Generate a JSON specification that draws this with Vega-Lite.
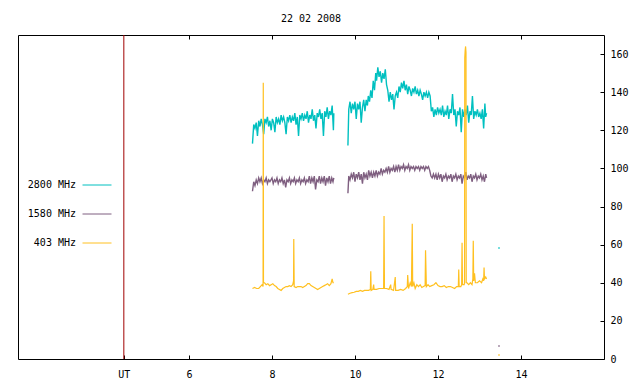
{
"$schema": "https://vega.github.io/schema/vega-lite/v6.json",
"width": 586, "height": 324,
"autosize": {"type": "none"},
"padding": {"left": 18, "top": 35, "right": 36, "bottom": 25},
"background": "white",
"title": {"text": "22 02 2008", "font": "DejaVu Sans Mono", "fontSize": 10, "fontWeight": "normal", "color": "black", "offset": 11, "anchor": "middle"},
"config": {
 "view": {"stroke": "black", "strokeWidth": 1},
 "axis": {"grid": false, "domain": false, "tickColor": "black", "labelColor": "black", "labelFont": "DejaVu Sans Mono", "labelFontSize": 10, "title": null}
},
"datasets": {
 "red": [{"t": 4.43}],
 "teal": [
  {"g":1,"t":7.53,"v":113},{"g":1,"t":7.56,"v":123},{"g":1,"t":7.59,"v":121},{"g":1,"t":7.62,"v":124},{"g":1,"t":7.65,"v":117},{"g":1,"t":7.68,"v":125},{"g":1,"t":7.71,"v":122},{"g":1,"t":7.74,"v":126},{"g":1,"t":7.77,"v":123},{"g":1,"t":7.8,"v":118},{"g":1,"t":7.83,"v":126},{"g":1,"t":7.86,"v":124},{"g":1,"t":7.89,"v":127},{"g":1,"t":7.92,"v":122},{"g":1,"t":7.95,"v":125},{"g":1,"t":7.98,"v":120},{"g":1,"t":8.01,"v":126},{"g":1,"t":8.04,"v":124},{"g":1,"t":8.07,"v":119},{"g":1,"t":8.1,"v":127},{"g":1,"t":8.13,"v":124},{"g":1,"t":8.16,"v":126},{"g":1,"t":8.19,"v":123},{"g":1,"t":8.22,"v":128},{"g":1,"t":8.25,"v":125},{"g":1,"t":8.28,"v":127},{"g":1,"t":8.31,"v":124},{"g":1,"t":8.34,"v":118},{"g":1,"t":8.37,"v":127},{"g":1,"t":8.4,"v":125},{"g":1,"t":8.43,"v":128},{"g":1,"t":8.46,"v":124},{"g":1,"t":8.49,"v":127},{"g":1,"t":8.52,"v":125},{"g":1,"t":8.55,"v":129},{"g":1,"t":8.58,"v":123},{"g":1,"t":8.61,"v":127},{"g":1,"t":8.64,"v":117},{"g":1,"t":8.67,"v":128},{"g":1,"t":8.7,"v":126},{"g":1,"t":8.73,"v":129},{"g":1,"t":8.76,"v":125},{"g":1,"t":8.79,"v":128},{"g":1,"t":8.82,"v":126},{"g":1,"t":8.85,"v":130},{"g":1,"t":8.88,"v":124},{"g":1,"t":8.91,"v":128},{"g":1,"t":8.94,"v":126},{"g":1,"t":8.97,"v":131},{"g":1,"t":9.0,"v":125},{"g":1,"t":9.03,"v":128},{"g":1,"t":9.06,"v":121},{"g":1,"t":9.09,"v":129},{"g":1,"t":9.12,"v":127},{"g":1,"t":9.15,"v":131},{"g":1,"t":9.18,"v":126},{"g":1,"t":9.21,"v":129},{"g":1,"t":9.24,"v":117},{"g":1,"t":9.27,"v":130},{"g":1,"t":9.3,"v":127},{"g":1,"t":9.33,"v":132},{"g":1,"t":9.36,"v":126},{"g":1,"t":9.39,"v":130},{"g":1,"t":9.42,"v":128},{"g":1,"t":9.45,"v":133},{"g":1,"t":9.48,"v":120},{"g":1,"t":9.49,"v":129},
  {"g":2,"t":9.83,"v":112},{"g":2,"t":9.85,"v":131},{"g":2,"t":9.88,"v":135},{"g":2,"t":9.91,"v":129},{"g":2,"t":9.94,"v":134},{"g":2,"t":9.97,"v":131},{"g":2,"t":10.0,"v":135},{"g":2,"t":10.03,"v":126},{"g":2,"t":10.06,"v":134},{"g":2,"t":10.09,"v":131},{"g":2,"t":10.12,"v":135},{"g":2,"t":10.15,"v":124},{"g":2,"t":10.18,"v":132},{"g":2,"t":10.21,"v":136},{"g":2,"t":10.24,"v":130},{"g":2,"t":10.27,"v":136},{"g":2,"t":10.3,"v":133},{"g":2,"t":10.32,"v":138},{"g":2,"t":10.35,"v":135},{"g":2,"t":10.38,"v":141},{"g":2,"t":10.41,"v":137},{"g":2,"t":10.44,"v":146},{"g":2,"t":10.47,"v":141},{"g":2,"t":10.5,"v":150},{"g":2,"t":10.52,"v":146},{"g":2,"t":10.55,"v":153},{"g":2,"t":10.58,"v":148},{"g":2,"t":10.61,"v":151},{"g":2,"t":10.64,"v":145},{"g":2,"t":10.67,"v":150},{"g":2,"t":10.7,"v":147},{"g":2,"t":10.73,"v":152},{"g":2,"t":10.76,"v":144},{"g":2,"t":10.79,"v":141},{"g":2,"t":10.82,"v":135},{"g":2,"t":10.85,"v":140},{"g":2,"t":10.88,"v":136},{"g":2,"t":10.91,"v":139},{"g":2,"t":10.94,"v":131},{"g":2,"t":10.97,"v":138},{"g":2,"t":11.0,"v":140},{"g":2,"t":11.03,"v":137},{"g":2,"t":11.06,"v":143},{"g":2,"t":11.09,"v":140},{"g":2,"t":11.12,"v":145},{"g":2,"t":11.15,"v":142},{"g":2,"t":11.18,"v":146},{"g":2,"t":11.21,"v":141},{"g":2,"t":11.24,"v":144},{"g":2,"t":11.27,"v":139},{"g":2,"t":11.3,"v":143},{"g":2,"t":11.33,"v":141},{"g":2,"t":11.36,"v":138},{"g":2,"t":11.39,"v":142},{"g":2,"t":11.42,"v":140},{"g":2,"t":11.45,"v":143},{"g":2,"t":11.48,"v":139},{"g":2,"t":11.51,"v":141},{"g":2,"t":11.54,"v":138},{"g":2,"t":11.57,"v":141},{"g":2,"t":11.6,"v":139},{"g":2,"t":11.63,"v":136},{"g":2,"t":11.66,"v":140},{"g":2,"t":11.69,"v":138},{"g":2,"t":11.72,"v":140},{"g":2,"t":11.75,"v":137},{"g":2,"t":11.78,"v":140},{"g":2,"t":11.81,"v":138},{"g":2,"t":11.84,"v":130},{"g":2,"t":11.87,"v":132},{"g":2,"t":11.9,"v":127},{"g":2,"t":11.93,"v":131},{"g":2,"t":11.96,"v":128},{"g":2,"t":11.99,"v":132},{"g":2,"t":12.02,"v":129},{"g":2,"t":12.05,"v":131},{"g":2,"t":12.08,"v":128},{"g":2,"t":12.11,"v":133},{"g":2,"t":12.14,"v":127},{"g":2,"t":12.17,"v":130},{"g":2,"t":12.2,"v":128},{"g":2,"t":12.23,"v":133},{"g":2,"t":12.26,"v":126},{"g":2,"t":12.29,"v":131},{"g":2,"t":12.32,"v":129},{"g":2,"t":12.35,"v":139},{"g":2,"t":12.38,"v":128},{"g":2,"t":12.41,"v":131},{"g":2,"t":12.44,"v":122},{"g":2,"t":12.47,"v":130},{"g":2,"t":12.5,"v":128},{"g":2,"t":12.53,"v":132},{"g":2,"t":12.56,"v":119},{"g":2,"t":12.59,"v":131},{"g":2,"t":12.62,"v":127},{"g":2,"t":12.65,"v":131},{"g":2,"t":12.68,"v":128},{"g":2,"t":12.71,"v":133},{"g":2,"t":12.74,"v":124},{"g":2,"t":12.77,"v":130},{"g":2,"t":12.8,"v":128},{"g":2,"t":12.83,"v":138},{"g":2,"t":12.86,"v":126},{"g":2,"t":12.89,"v":130},{"g":2,"t":12.92,"v":128},{"g":2,"t":12.95,"v":131},{"g":2,"t":12.98,"v":127},{"g":2,"t":13.01,"v":129},{"g":2,"t":13.04,"v":126},{"g":2,"t":13.07,"v":131},{"g":2,"t":13.1,"v":121},{"g":2,"t":13.13,"v":134},{"g":2,"t":13.15,"v":127},{"g":2,"t":13.17,"v":129}
 ],
 "purple": [
  {"g":1,"t":7.53,"v":88},{"g":1,"t":7.56,"v":93},{"g":1,"t":7.59,"v":91},{"g":1,"t":7.62,"v":94},{"g":1,"t":7.65,"v":92},{"g":1,"t":7.68,"v":95},{"g":1,"t":7.71,"v":93},{"g":1,"t":7.74,"v":95},{"g":1,"t":7.77,"v":92},{"g":1,"t":7.8,"v":94},{"g":1,"t":7.83,"v":93},{"g":1,"t":7.86,"v":95},{"g":1,"t":7.89,"v":92},{"g":1,"t":7.92,"v":94},{"g":1,"t":7.95,"v":93},{"g":1,"t":8.0,"v":95},{"g":1,"t":8.03,"v":92},{"g":1,"t":8.06,"v":94},{"g":1,"t":8.09,"v":93},{"g":1,"t":8.12,"v":95},{"g":1,"t":8.15,"v":92},{"g":1,"t":8.18,"v":94},{"g":1,"t":8.21,"v":93},{"g":1,"t":8.24,"v":95},{"g":1,"t":8.27,"v":92},{"g":1,"t":8.3,"v":94},{"g":1,"t":8.33,"v":90},{"g":1,"t":8.36,"v":94},{"g":1,"t":8.39,"v":93},{"g":1,"t":8.42,"v":95},{"g":1,"t":8.45,"v":92},{"g":1,"t":8.48,"v":94},{"g":1,"t":8.51,"v":93},{"g":1,"t":8.54,"v":95},{"g":1,"t":8.57,"v":92},{"g":1,"t":8.6,"v":94},{"g":1,"t":8.63,"v":93},{"g":1,"t":8.66,"v":95},{"g":1,"t":8.69,"v":92},{"g":1,"t":8.72,"v":94},{"g":1,"t":8.75,"v":93},{"g":1,"t":8.78,"v":95},{"g":1,"t":8.81,"v":92},{"g":1,"t":8.84,"v":94},{"g":1,"t":8.87,"v":93},{"g":1,"t":8.9,"v":96},{"g":1,"t":8.93,"v":92},{"g":1,"t":8.96,"v":95},{"g":1,"t":8.99,"v":93},{"g":1,"t":9.02,"v":96},{"g":1,"t":9.05,"v":89},{"g":1,"t":9.08,"v":94},{"g":1,"t":9.11,"v":93},{"g":1,"t":9.14,"v":96},{"g":1,"t":9.17,"v":92},{"g":1,"t":9.2,"v":95},{"g":1,"t":9.23,"v":93},{"g":1,"t":9.26,"v":96},{"g":1,"t":9.29,"v":91},{"g":1,"t":9.32,"v":95},{"g":1,"t":9.35,"v":93},{"g":1,"t":9.38,"v":96},{"g":1,"t":9.41,"v":92},{"g":1,"t":9.44,"v":95},{"g":1,"t":9.47,"v":93},{"g":1,"t":9.49,"v":95},
  {"g":2,"t":9.83,"v":87},{"g":2,"t":9.85,"v":96},{"g":2,"t":9.88,"v":94},{"g":2,"t":9.91,"v":97},{"g":2,"t":9.94,"v":95},{"g":2,"t":9.97,"v":98},{"g":2,"t":10.0,"v":93},{"g":2,"t":10.03,"v":97},{"g":2,"t":10.06,"v":95},{"g":2,"t":10.09,"v":98},{"g":2,"t":10.12,"v":94},{"g":2,"t":10.15,"v":97},{"g":2,"t":10.18,"v":92},{"g":2,"t":10.21,"v":98},{"g":2,"t":10.24,"v":95},{"g":2,"t":10.27,"v":97},{"g":2,"t":10.3,"v":94},{"g":2,"t":10.33,"v":99},{"g":2,"t":10.36,"v":96},{"g":2,"t":10.39,"v":98},{"g":2,"t":10.42,"v":95},{"g":2,"t":10.45,"v":98},{"g":2,"t":10.48,"v":96},{"g":2,"t":10.51,"v":99},{"g":2,"t":10.54,"v":96},{"g":2,"t":10.57,"v":98},{"g":2,"t":10.6,"v":97},{"g":2,"t":10.63,"v":100},{"g":2,"t":10.66,"v":97},{"g":2,"t":10.69,"v":99},{"g":2,"t":10.72,"v":98},{"g":2,"t":10.75,"v":100},{"g":2,"t":10.78,"v":98},{"g":2,"t":10.81,"v":101},{"g":2,"t":10.84,"v":98},{"g":2,"t":10.87,"v":100},{"g":2,"t":10.9,"v":99},{"g":2,"t":10.93,"v":101},{"g":2,"t":10.96,"v":98},{"g":2,"t":10.99,"v":101},{"g":2,"t":11.02,"v":99},{"g":2,"t":11.05,"v":102},{"g":2,"t":11.08,"v":99},{"g":2,"t":11.11,"v":101},{"g":2,"t":11.14,"v":100},{"g":2,"t":11.17,"v":102},{"g":2,"t":11.2,"v":99},{"g":2,"t":11.23,"v":101},{"g":2,"t":11.26,"v":100},{"g":2,"t":11.29,"v":102},{"g":2,"t":11.32,"v":99},{"g":2,"t":11.35,"v":101},{"g":2,"t":11.38,"v":100},{"g":2,"t":11.41,"v":101},{"g":2,"t":11.44,"v":99},{"g":2,"t":11.47,"v":101},{"g":2,"t":11.5,"v":100},{"g":2,"t":11.53,"v":101},{"g":2,"t":11.56,"v":99},{"g":2,"t":11.59,"v":101},{"g":2,"t":11.62,"v":100},{"g":2,"t":11.65,"v":101},{"g":2,"t":11.68,"v":99},{"g":2,"t":11.71,"v":101},{"g":2,"t":11.74,"v":100},{"g":2,"t":11.77,"v":101},{"g":2,"t":11.8,"v":99},{"g":2,"t":11.83,"v":96},{"g":2,"t":11.86,"v":95},{"g":2,"t":11.89,"v":97},{"g":2,"t":11.92,"v":95},{"g":2,"t":11.95,"v":97},{"g":2,"t":11.98,"v":94},{"g":2,"t":12.01,"v":97},{"g":2,"t":12.04,"v":95},{"g":2,"t":12.07,"v":97},{"g":2,"t":12.1,"v":93},{"g":2,"t":12.13,"v":96},{"g":2,"t":12.16,"v":95},{"g":2,"t":12.19,"v":97},{"g":2,"t":12.22,"v":94},{"g":2,"t":12.25,"v":96},{"g":2,"t":12.28,"v":95},{"g":2,"t":12.31,"v":97},{"g":2,"t":12.34,"v":93},{"g":2,"t":12.37,"v":96},{"g":2,"t":12.4,"v":95},{"g":2,"t":12.43,"v":97},{"g":2,"t":12.46,"v":94},{"g":2,"t":12.49,"v":96},{"g":2,"t":12.52,"v":95},{"g":2,"t":12.55,"v":97},{"g":2,"t":12.58,"v":92},{"g":2,"t":12.61,"v":96},{"g":2,"t":12.64,"v":95},{"g":2,"t":12.67,"v":98},{"g":2,"t":12.7,"v":94},{"g":2,"t":12.73,"v":96},{"g":2,"t":12.76,"v":95},{"g":2,"t":12.79,"v":97},{"g":2,"t":12.82,"v":93},{"g":2,"t":12.85,"v":96},{"g":2,"t":12.88,"v":95},{"g":2,"t":12.91,"v":97},{"g":2,"t":12.94,"v":94},{"g":2,"t":12.97,"v":96},{"g":2,"t":13.0,"v":95},{"g":2,"t":13.03,"v":97},{"g":2,"t":13.06,"v":94},{"g":2,"t":13.09,"v":96},{"g":2,"t":13.12,"v":93},{"g":2,"t":13.15,"v":97},{"g":2,"t":13.17,"v":95}
 ],
 "yellow": [
  {"g":1,"t":7.53,"v":37},{"g":1,"t":7.58,"v":37.5},{"g":1,"t":7.63,"v":37},{"g":1,"t":7.68,"v":37},{"g":1,"t":7.72,"v":38},{"g":1,"t":7.76,"v":39},{"g":1,"t":7.785,"v":38},{"g":1,"t":7.79,"v":145},{"g":1,"t":7.795,"v":40},{"g":1,"t":7.82,"v":40},{"g":1,"t":7.86,"v":39},{"g":1,"t":7.9,"v":39.5},{"g":1,"t":7.94,"v":38.5},{"g":1,"t":7.98,"v":39},{"g":1,"t":8.02,"v":39.5},{"g":1,"t":8.06,"v":38.5},{"g":1,"t":8.1,"v":38},{"g":1,"t":8.14,"v":37},{"g":1,"t":8.18,"v":36.5},{"g":1,"t":8.22,"v":36},{"g":1,"t":8.26,"v":37},{"g":1,"t":8.3,"v":37.5},{"g":1,"t":8.34,"v":38},{"g":1,"t":8.38,"v":38},{"g":1,"t":8.42,"v":38.5},{"g":1,"t":8.46,"v":38},{"g":1,"t":8.5,"v":39},{"g":1,"t":8.52,"v":41},{"g":1,"t":8.525,"v":63},{"g":1,"t":8.535,"v":38},{"g":1,"t":8.58,"v":37.5},{"g":1,"t":8.62,"v":38},{"g":1,"t":8.66,"v":38},{"g":1,"t":8.7,"v":38},{"g":1,"t":8.74,"v":37.5},{"g":1,"t":8.78,"v":38},{"g":1,"t":8.82,"v":38.5},{"g":1,"t":8.86,"v":39.5},{"g":1,"t":8.9,"v":39.5},{"g":1,"t":8.94,"v":38.5},{"g":1,"t":8.98,"v":38},{"g":1,"t":9.02,"v":37.5},{"g":1,"t":9.06,"v":37},{"g":1,"t":9.1,"v":36.5},{"g":1,"t":9.14,"v":37},{"g":1,"t":9.18,"v":37.5},{"g":1,"t":9.22,"v":38},{"g":1,"t":9.26,"v":38.5},{"g":1,"t":9.3,"v":39},{"g":1,"t":9.34,"v":39.5},{"g":1,"t":9.38,"v":38.5},{"g":1,"t":9.42,"v":39.5},{"g":1,"t":9.45,"v":42},{"g":1,"t":9.47,"v":40},{"g":1,"t":9.49,"v":40},
  {"g":2,"t":9.83,"v":34},{"g":2,"t":9.88,"v":34.5},{"g":2,"t":9.93,"v":34.8},{"g":2,"t":9.98,"v":35},{"g":2,"t":10.03,"v":35.5},{"g":2,"t":10.08,"v":35.5},{"g":2,"t":10.13,"v":36},{"g":2,"t":10.18,"v":35.5},{"g":2,"t":10.23,"v":36},{"g":2,"t":10.28,"v":36},{"g":2,"t":10.33,"v":36},{"g":2,"t":10.37,"v":36.5},{"g":2,"t":10.38,"v":46},{"g":2,"t":10.39,"v":36},{"g":2,"t":10.43,"v":36.5},{"g":2,"t":10.45,"v":39},{"g":2,"t":10.46,"v":36.5},{"g":2,"t":10.52,"v":36.5},{"g":2,"t":10.58,"v":37},{"g":2,"t":10.64,"v":37},{"g":2,"t":10.69,"v":37},{"g":2,"t":10.7,"v":75},{"g":2,"t":10.71,"v":37},{"g":2,"t":10.76,"v":37},{"g":2,"t":10.82,"v":36.5},{"g":2,"t":10.86,"v":39},{"g":2,"t":10.87,"v":36.5},{"g":2,"t":10.93,"v":36},{"g":2,"t":10.97,"v":43},{"g":2,"t":10.98,"v":36},{"g":2,"t":11.04,"v":36},{"g":2,"t":11.1,"v":36.5},{"g":2,"t":11.16,"v":36},{"g":2,"t":11.22,"v":37},{"g":2,"t":11.26,"v":38},{"g":2,"t":11.27,"v":44},{"g":2,"t":11.29,"v":37},{"g":2,"t":11.33,"v":40},{"g":2,"t":11.36,"v":38},{"g":2,"t":11.38,"v":71},{"g":2,"t":11.39,"v":38},{"g":2,"t":11.42,"v":40},{"g":2,"t":11.45,"v":37},{"g":2,"t":11.49,"v":39},{"g":2,"t":11.53,"v":38},{"g":2,"t":11.57,"v":39},{"g":2,"t":11.61,"v":37.5},{"g":2,"t":11.65,"v":38},{"g":2,"t":11.69,"v":38.5},{"g":2,"t":11.7,"v":57},{"g":2,"t":11.72,"v":38},{"g":2,"t":11.76,"v":39},{"g":2,"t":11.8,"v":38},{"g":2,"t":11.85,"v":38.5},{"g":2,"t":11.9,"v":39},{"g":2,"t":11.95,"v":40},{"g":2,"t":12.0,"v":38.5},{"g":2,"t":12.05,"v":38},{"g":2,"t":12.1,"v":38},{"g":2,"t":12.15,"v":38.5},{"g":2,"t":12.2,"v":37.5},{"g":2,"t":12.25,"v":38},{"g":2,"t":12.3,"v":38},{"g":2,"t":12.35,"v":37.5},{"g":2,"t":12.4,"v":37},{"g":2,"t":12.45,"v":38},{"g":2,"t":12.49,"v":38},{"g":2,"t":12.5,"v":47},{"g":2,"t":12.51,"v":38},{"g":2,"t":12.55,"v":38},{"g":2,"t":12.57,"v":39},{"g":2,"t":12.58,"v":61},{"g":2,"t":12.59,"v":39},{"g":2,"t":12.63,"v":39},{"g":2,"t":12.64,"v":40},{"g":2,"t":12.645,"v":158},{"g":2,"t":12.655,"v":162},{"g":2,"t":12.665,"v":164},{"g":2,"t":12.675,"v":161},{"g":2,"t":12.68,"v":40},{"g":2,"t":12.7,"v":40},{"g":2,"t":12.74,"v":39},{"g":2,"t":12.78,"v":40},{"g":2,"t":12.82,"v":39},{"g":2,"t":12.84,"v":42},{"g":2,"t":12.85,"v":62},{"g":2,"t":12.86,"v":41},{"g":2,"t":12.88,"v":45},{"g":2,"t":12.9,"v":40},{"g":2,"t":12.95,"v":40},{"g":2,"t":13.0,"v":41},{"g":2,"t":13.05,"v":40},{"g":2,"t":13.08,"v":42},{"g":2,"t":13.1,"v":41},{"g":2,"t":13.11,"v":48},{"g":2,"t":13.12,"v":42},{"g":2,"t":13.15,"v":43},{"g":2,"t":13.17,"v":42}
 ],
 "dots": [
  {"s":"2800 MHz","t":13.47,"v":58.2},{"s":"1580 MHz","t":13.47,"v":6.8},{"s":"403 MHz","t":13.47,"v":2.1}
 ]
},
"layer": [
 {
  "data": {"name": "red"},
  "mark": {"type": "rule", "color": "#a00000", "strokeWidth": 1},
  "encoding": {
   "x": {"field": "t", "type": "quantitative", "scale": {"domain": [1.88, 16], "nice": false, "zero": false},
         "axis": {"orient": "top", "values": [6, 8, 10, 12, 14], "labels": false, "tickSize": -4, "domain": false}}
  }
 },
 {
  "data": {"name": "teal"},
  "mark": {"type": "line", "strokeWidth": 1.4},
  "encoding": {
   "x": {"field": "t", "type": "quantitative", "scale": {"domain": [1.88, 16], "nice": false, "zero": false},
         "axis": {"orient": "bottom", "values": [4.43, 6, 8, 10, 12, 14], "labelExpr": "datum.value < 5 ? 'UT' : datum.label", "tickSize": -4, "labelPadding": 14}},
   "y": {"field": "v", "type": "quantitative", "scale": {"domain": [0, 170], "nice": false, "zero": false},
         "axis": {"orient": "right", "values": [0, 20, 40, 60, 80, 100, 120, 140, 160], "tickSize": -4, "labelPadding": 10}},
   "detail": {"field": "g", "type": "nominal"},
   "color": {"datum": "2800 MHz", "type": "nominal",
     "scale": {"domain": ["2800 MHz", "1580 MHz", "403 MHz"], "range": ["#00c0c0", "#7f5f80", "#ffc020"]},
     "legend": {"orient": "none", "legendX": 64, "legendY": 135, "direction": "vertical", "symbolType": "stroke", "symbolSize": 841, "symbolStrokeWidth": 1, "labelAlign": "right", "labelOffset": -36, "labelFont": "DejaVu Sans Mono", "labelFontSize": 10, "labelColor": "black", "title": null, "rowPadding": 9, "padding": 0}}
  }
 },
 {
  "data": {"name": "purple"},
  "mark": {"type": "line", "strokeWidth": 1.4},
  "encoding": {
   "x": {"field": "t", "type": "quantitative", "scale": {"domain": [1.88, 16], "nice": false, "zero": false}, "axis": null},
   "y": {"field": "v", "type": "quantitative", "scale": {"domain": [0, 170], "nice": false, "zero": false},
         "axis": {"orient": "right", "values": [0, 20, 40, 60, 80, 100, 120, 140, 160], "tickSize": -4, "labelPadding": 10}},
   "detail": {"field": "g", "type": "nominal"},
   "color": {"datum": "1580 MHz", "type": "nominal", "legend": null}
  }
 },
 {
  "data": {"name": "yellow"},
  "mark": {"type": "line", "strokeWidth": 1.2},
  "encoding": {
   "x": {"field": "t", "type": "quantitative", "scale": {"domain": [1.88, 16], "nice": false, "zero": false}, "axis": null},
   "y": {"field": "v", "type": "quantitative", "scale": {"domain": [0, 170], "nice": false, "zero": false},
         "axis": {"orient": "right", "values": [0, 20, 40, 60, 80, 100, 120, 140, 160], "tickSize": -4, "labelPadding": 10}},
   "detail": {"field": "g", "type": "nominal"},
   "color": {"datum": "403 MHz", "type": "nominal", "legend": null}
  }
 },
 {
  "data": {"name": "dots"},
  "mark": {"type": "square", "size": 2, "opacity": 1},
  "encoding": {
   "x": {"field": "t", "type": "quantitative", "scale": {"domain": [1.88, 16], "nice": false, "zero": false}, "axis": null},
   "y": {"field": "v", "type": "quantitative", "scale": {"domain": [0, 170], "nice": false, "zero": false},
         "axis": {"orient": "right", "values": [0, 20, 40, 60, 80, 100, 120, 140, 160], "tickSize": -4, "labelPadding": 10}},
   "color": {"field": "s", "type": "nominal", "legend": null}
  }
 }
],
"resolve": {"axis": {"x": "independent"}}
}
